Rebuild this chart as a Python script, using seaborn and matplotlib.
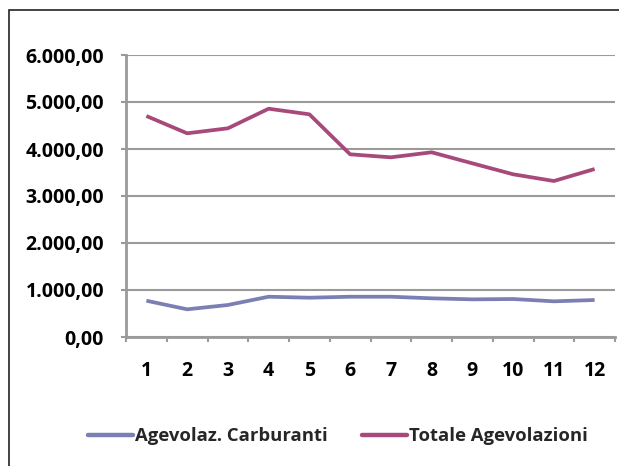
import matplotlib
matplotlib.use("Agg")
import matplotlib.pyplot as plt
from matplotlib.patches import Rectangle
from matplotlib.lines import Line2D
from matplotlib.ticker import FixedLocator
import numpy as np
import pandas as pd
import seaborn as sns

# Monthly values
months = [1, 2, 3, 4, 5, 6, 7, 8, 9, 10, 11, 12]
carburanti = [772, 589, 681, 857, 836, 857, 857, 823, 801, 808, 759, 787]
totale = [4702, 4334, 4440, 4857, 4738, 3887, 3823, 3930, 3695, 3462, 3319, 3574]
series_names = ["Agevolaz. Carburanti", "Totale Agevolazioni"]
y_ticks = [0, 1000, 2000, 3000, 4000, 5000, 6000]
y_tick_labels = ["0,00", "1.000,00", "2.000,00", "3.000,00", "4.000,00", "5.000,00", "6.000,00"]

df = pd.DataFrame({
    "mese": months * 2,
    "valore": carburanti + totale,
    "serie": [series_names[0]] * len(months) + [series_names[1]] * len(months),
})

sns.set_theme(style="white")
plt.rcParams["font.family"] = ["Open Sans", "DejaVu Sans"]

W, H = 619, 466
fig = plt.figure(figsize=(W / 100, H / 100), dpi=100)
ax = fig.add_axes([126 / W, 1 - 337 / H, (615 - 126) / W, (337 - 55) / H])

palette = {series_names[0]: "#7c7fb3", series_names[1]: "#a74a7b"}
sns.lineplot(data=df, x="mese", y="valore", hue="serie", palette=palette,
             linewidth=2.7, ax=ax, legend=False, solid_capstyle="butt")

ax.set_xlim(0.5, 12.5)
ax.set_ylim(0, 6000)
ax.set_xlabel("")
ax.set_ylabel("")

grey = "#9a9a9a"
ax.set_yticks(y_ticks)
ax.set_yticklabels(y_tick_labels)
ax.yaxis.grid(True, color=grey, linewidth=1.5)
ax.set_axisbelow(True)

ax.set_xticks(months)
ax.set_xticklabels([str(m) for m in months])
ax.xaxis.set_minor_locator(FixedLocator(np.arange(0.5, 13, 1)))
ax.tick_params(axis="x", which="major", length=0, pad=17, labelsize=14)
ax.tick_params(axis="x", which="minor", length=3.8, width=1.5, color=grey,
               direction="out", bottom=True)
ax.tick_params(axis="y", which="major", length=3.8, width=1.5, color=grey,
               direction="out", pad=12, labelsize=14, left=True)
for lbl in ax.get_xticklabels() + ax.get_yticklabels():
    lbl.set_fontweight("bold")
    lbl.set_color("black")

for side in ["top", "right"]:
    ax.spines[side].set_visible(False)
for side in ["left", "bottom"]:
    ax.spines[side].set_color(grey)
    ax.spines[side].set_linewidth(2)

# Legend below the plot
handles = [Line2D([], [], color=palette[n], linewidth=3.2, solid_capstyle="round")
           for n in series_names]
fig.legend(handles, series_names, loc="center", bbox_to_anchor=(338 / W, 1 - 436 / H),
           ncol=2, frameon=False, handlelength=2.4, handletextpad=0.1, columnspacing=1.9,
           prop={"size": 13.3, "weight": "bold"})

# Chart area border
fig.add_artist(Rectangle((9 / W, -0.1), 1.2, 1 - 10 / H + 0.1, transform=fig.transFigure,
                         fill=False, edgecolor="#222222", linewidth=1.2))

fig.savefig("out.png", dpi=100)
